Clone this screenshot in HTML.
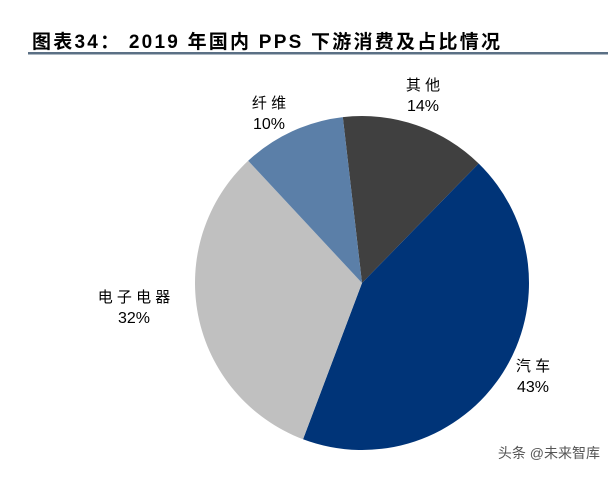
<!DOCTYPE html>
<html><head><meta charset="utf-8"><style>
body{margin:0;background:#fff;width:608px;height:472px;overflow:hidden;font-family:"Liberation Sans","Noto Sans CJK SC",sans-serif}
svg text{font-family:"Liberation Sans","Noto Sans CJK SC",sans-serif}
</style></head><body>
<svg width="608" height="472">
<text x="32" y="48" font-size="19" font-weight="bold" fill="#000" textLength="468" lengthAdjust="spacing">图表34：  2019 年国内 PPS 下游消费及占比情况</text>
<rect x="28" y="52" width="580" height="2.5" fill="#5b7085"/>
<g id="pie"></g>
<text x="600" y="458" font-size="14" fill="#555" text-anchor="end">头条 @未来智库</text>
</svg>
<script>
const categories=["其他","汽车","电子电器","纤维"];
const values=[14,43,32,10];
const colors=["#404040","#003478","#c0c0c0","#5b7fa8"];
const labelPos=[[423,90],[533,371],[134,302],[269,108]];
const cx=362,cy=283,r=167,start=-6.6;
const total=values.reduce((a,b)=>a+b,0);
const g=document.getElementById('pie');
const ns="http://www.w3.org/2000/svg";
function pt(a){const t=a*Math.PI/180;return [cx+r*Math.sin(t),cy-r*Math.cos(t)];}
let a=start;
values.forEach((v,i)=>{
  const sw=v/total*360,a2=a+sw;
  const p1=pt(a),p2=pt(a2);
  const p=document.createElementNS(ns,'path');
  p.setAttribute('d',`M${cx},${cy}L${p1[0]},${p1[1]}A${r},${r} 0 ${sw>180?1:0} 1 ${p2[0]},${p2[1]}Z`);
  p.setAttribute('fill',colors[i]);
  
  
  g.appendChild(p);
  a=a2;
  const t1=document.createElementNS(ns,'text');
  t1.setAttribute('x',labelPos[i][0]);t1.setAttribute('y',labelPos[i][1]);
  t1.setAttribute('text-anchor','middle');t1.setAttribute('font-size','15');
  t1.textContent=categories[i].split('').join(' ');
  
  
  g.appendChild(t1);
  const t2=document.createElementNS(ns,'text');
  t2.setAttribute('x',labelPos[i][0]);t2.setAttribute('y',labelPos[i][1]+21);
  t2.setAttribute('text-anchor','middle');t2.setAttribute('font-size','16');
  t2.textContent=v+'%';
  
  
  g.appendChild(t2);
});
</script>
</body></html>
